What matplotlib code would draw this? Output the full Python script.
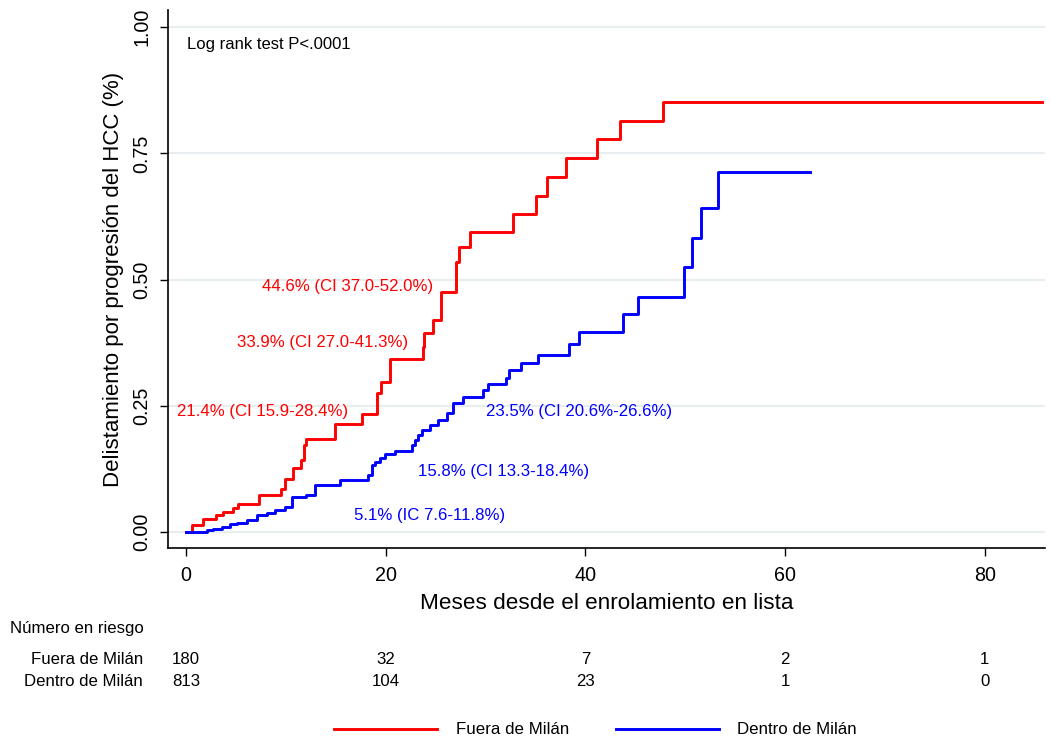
import matplotlib
matplotlib.use("Agg")
import matplotlib.pyplot as plt
import matplotlib.transforms as mtransforms
from matplotlib.lines import Line2D

plt.rcParams['font.family'] = ['Liberation Sans', 'DejaVu Sans']

# Cumulative incidence of delisting (step functions)
fuera_t = [0, 0.6, 1.7, 3.0, 3.7, 4.7, 5.2, 7.3, 9.5, 9.9, 10.7, 11.5, 11.8, 12.0,
           14.9, 17.6, 19.1, 19.5, 20.4, 23.7, 23.8, 24.7, 25.5, 27.0, 27.3, 28.4,
           32.7, 35.0, 36.1, 38.1, 41.2, 43.5, 47.8, 85.7]
fuera_y = [0, 0.013, 0.026, 0.033, 0.040, 0.047, 0.055, 0.072, 0.085, 0.104, 0.126,
           0.142, 0.172, 0.184, 0.214, 0.234, 0.275, 0.297, 0.343, 0.367, 0.393,
           0.420, 0.476, 0.535, 0.564, 0.595, 0.629, 0.665, 0.704, 0.741, 0.778,
           0.815, 0.851, 0.851]

dentro_t = [0, 2.1, 2.7, 3.6, 4.4, 5.1, 6.1, 7.1, 8.1, 8.9, 9.9, 10.6, 12.0, 12.9,
            15.4, 18.2, 18.6, 18.9, 19.4, 19.9, 20.9, 22.6, 22.9, 23.2, 23.6, 24.4,
            25.2, 26.1, 26.7, 27.7, 29.7, 30.2, 32.0, 32.3, 33.5, 35.2, 38.4, 39.4,
            43.75, 45.3, 49.9, 50.7, 51.6, 53.3, 62.5]
dentro_y = [0, 0.003, 0.006, 0.010, 0.015, 0.018, 0.024, 0.033, 0.038, 0.044, 0.050,
            0.068, 0.073, 0.093, 0.103, 0.113, 0.132, 0.139, 0.146, 0.154, 0.161,
            0.172, 0.182, 0.192, 0.202, 0.212, 0.222, 0.235, 0.256, 0.268, 0.281,
            0.293, 0.304, 0.321, 0.335, 0.350, 0.372, 0.396, 0.431, 0.465, 0.524,
            0.583, 0.642, 0.713, 0.713]

risk_times = [0, 20, 40, 60, 80]
risk_fuera = [180, 32, 7, 2, 1]
risk_dentro = [813, 104, 23, 1, 0]

x_ticks = [0, 20, 40, 60, 80]
y_ticks = [0.0, 0.25, 0.50, 0.75, 1.00]
y_ticklabels = ["0.00", "0.25", "0.50", "0.75", "1.00"]

RED = "#ff0000"
BLUE = "#0000ff"

fig = plt.figure(figsize=(10.51, 7.43), dpi=100)
ax = fig.add_axes([0.160, 0.2625, 0.834, 0.724])

for yv in y_ticks:
    ax.axhline(yv, color="#e8eef0", lw=1.6, zorder=0)

ax.step(fuera_t, fuera_y, where="post", color=RED, lw=2.1, zorder=3)
ax.step(dentro_t, dentro_y, where="post", color=BLUE, lw=2.1, zorder=3)

ax.set_xlim(-1.8, 86.0)
ax.set_ylim(-0.032, 1.034)
ax.set_xticks(x_ticks)
ax.set_yticks(y_ticks)
ax.set_yticklabels(y_ticklabels, rotation=90, va="center")
ax.tick_params(axis="both", labelsize=14.2, length=6, width=1.0, direction="out",
               color="black")
ax.tick_params(axis="x", pad=7)
ax.tick_params(axis="y", pad=6)
for s in ["top", "right"]:
    ax.spines[s].set_visible(False)
for s in ["left", "bottom"]:
    ax.spines[s].set_linewidth(1.2)

ax.set_xlabel("Meses desde el enrolamiento en lista", fontsize=16.2, labelpad=6)
ax.set_ylabel("Delistamiento por progresión del HCC (%)", fontsize=16.0, labelpad=6)

ax.text(0.1, 0.965, "Log rank test P<.0001", fontsize=12, va="center", ha="left")

ann_fs = 12.1
ax.text(7.6, 0.486, "44.6% (CI 37.0-52.0%)", color=RED, fontsize=ann_fs, va="center")
ax.text(5.1, 0.376, "33.9% (CI 27.0-41.3%)", color=RED, fontsize=ann_fs, va="center")
ax.text(-0.9, 0.238, "21.4% (CI 15.9-28.4%)", color=RED, fontsize=ann_fs, va="center")
ax.text(30.0, 0.238, "23.5% (CI 20.6%-26.6%)", color=BLUE, fontsize=ann_fs, va="center")
ax.text(23.2, 0.120, "15.8% (CI 13.3-18.4%)", color=BLUE, fontsize=ann_fs, va="center")
ax.text(16.8, 0.033, "5.1% (IC 7.6-11.8%)", color=BLUE, fontsize=ann_fs, va="center")

# Number at risk table below the axes
trans = mtransforms.blended_transform_factory(ax.transData, fig.transFigure)
tab_fs = 12.1
fig.text(10 / 1051, 1 - 629 / 743, "Número en riesgo", fontsize=tab_fs, va="center", ha="left")
fig.text(143 / 1051, 1 - 660 / 743, "Fuera de Milán", fontsize=tab_fs, va="center", ha="right")
fig.text(143 / 1051, 1 - 681 / 743, "Dentro de Milán", fontsize=tab_fs, va="center", ha="right")
for t, a, b in zip(risk_times, risk_fuera, risk_dentro):
    ax.text(t, 1 - 660 / 743, str(a), transform=trans, fontsize=tab_fs, ha="center", va="center")
    ax.text(t, 1 - 681 / 743, str(b), transform=trans, fontsize=tab_fs, ha="center", va="center")

# Legend
handles = [Line2D([], [], color=RED, lw=2.1), Line2D([], [], color=BLUE, lw=2.1)]
fig.legend(handles, ["Fuera de Milán", "Dentro de Milán"], loc="center",
           bbox_to_anchor=(0.5666, 1 - 730 / 743), ncol=2, frameon=False,
           fontsize=12.2, handlelength=6.1, handletextpad=1.08, columnspacing=2.75)

fig.savefig("out.png", dpi=100)
